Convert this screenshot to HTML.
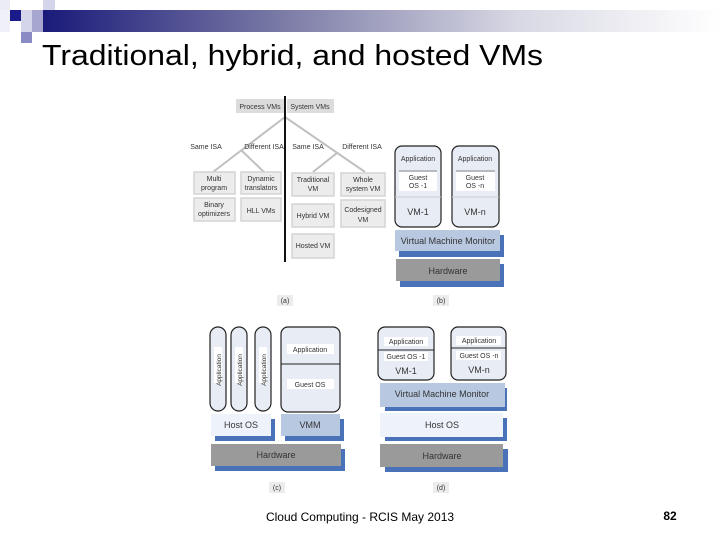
<!DOCTYPE html>
<html><head><meta charset="utf-8"><style>
body{margin:0;width:720px;height:540px;background:#fff;overflow:hidden;font-family:"Liberation Sans",sans-serif}
</style></head><body>
<svg width="720" height="540" viewBox="0 0 720 540" xmlns="http://www.w3.org/2000/svg" font-family="Liberation Sans, sans-serif">
<defs>
<linearGradient id="g" x1="0" x2="1" y1="0" y2="0">
<stop offset="0" stop-color="#1a1a7a"/><stop offset="0.35" stop-color="#7a7aa6"/><stop offset="0.7" stop-color="#d8d8e4"/><stop offset="1" stop-color="#ffffff"/>
</linearGradient>
</defs>
<rect x="43" y="10" width="677" height="22" fill="url(#g)"/>
<rect x="0" y="0" width="10" height="10" fill="#ececf6"/>
<rect x="10" y="10" width="11" height="11" fill="#1a1a8a"/>
<rect x="21" y="10" width="11" height="11" fill="#d4d4ea"/>
<rect x="32" y="10" width="11" height="11" fill="#a6a6d0"/>
<rect x="43" y="0" width="12" height="10" fill="#d4d4ea"/>
<rect x="21" y="21" width="11" height="11" fill="#d4d4ea"/>
<rect x="32" y="21" width="11" height="11" fill="#a6a6d0"/>
<rect x="21" y="32" width="11" height="11" fill="#8a8ac4"/>
<rect x="0" y="10" width="10" height="22" fill="#f0f0f8"/>
<text x="42" y="65" font-size="29" textLength="501" lengthAdjust="spacingAndGlyphs" fill="#000">Traditional, hybrid, and hosted VMs</text>

<g font-size="7" fill="#333" text-anchor="middle">
<!-- (a) -->
<rect x="236" y="99" width="48" height="14" fill="#dcdcdc"/>
<rect x="287" y="99" width="47" height="14" fill="#dcdcdc"/>
<text x="260" y="109">Process VMs</text><text x="310" y="109">System VMs</text>
<g stroke="#c0c0c0" stroke-width="2" fill="none">
<line x1="285" y1="117" x2="213" y2="172"/><line x1="241" y1="150" x2="264" y2="172"/>
<line x1="285" y1="117" x2="365" y2="172"/><line x1="337" y1="153" x2="313" y2="172"/>
</g>
<line x1="285" y1="96" x2="285" y2="262" stroke="#111" stroke-width="2"/>
<text x="206" y="149">Same ISA</text><text x="264" y="149">Different ISA</text>
<text x="308" y="149">Same ISA</text><text x="362" y="149">Different ISA</text>
<g fill="#ececec" stroke="#d4d4d4" stroke-width="1.5">
<rect x="194" y="172" width="41" height="22"/><rect x="241" y="172" width="40" height="22"/>
<rect x="194" y="198" width="41" height="23"/><rect x="241" y="198" width="40" height="23"/>
<rect x="292" y="173" width="42" height="23"/><rect x="341" y="173" width="44" height="23"/>
<rect x="292" y="204" width="42" height="23"/><rect x="341" y="200" width="44" height="27"/>
<rect x="292" y="234" width="42" height="24"/>
</g>
<text x="214" y="181">Multi</text><text x="214" y="190">program</text>
<text x="261" y="181">Dynamic</text><text x="261" y="190">translators</text>
<text x="214" y="207">Binary</text><text x="214" y="216">optimizers</text>
<text x="261" y="213">HLL VMs</text>
<text x="313" y="182">Traditional</text><text x="313" y="191">VM</text>
<text x="363" y="182">Whole</text><text x="363" y="191">system VM</text>
<text x="313" y="218">Hybrid VM</text>
<text x="363" y="212">Codesigned</text><text x="363" y="222">VM</text>
<text x="313" y="248">Hosted VM</text>
<rect x="277" y="295" width="16" height="11" fill="#ececec"/><text x="285" y="303">(a)</text>

<!-- (b) -->
<rect x="399" y="235" width="105" height="22" fill="#4a72b8"/>
<rect x="395" y="230" width="105" height="21" fill="#b8c8e0"/>
<rect x="400" y="264" width="104" height="23" fill="#4a72b8"/>
<rect x="396" y="259" width="104" height="22" fill="#9a9a9a"/>
<text x="448" y="244" font-size="9">Virtual Machine Monitor</text>
<text x="448" y="274" font-size="9">Hardware</text>
<g fill="#e8ecf4" stroke="#222" stroke-width="1.2">
<rect x="395" y="146" width="46" height="81" rx="7"/><rect x="452" y="146" width="47" height="81" rx="7"/>
</g>
<rect x="399" y="172" width="38" height="19" fill="#fff"/><rect x="456" y="172" width="39" height="19" fill="#fff"/>
<line x1="399" y1="171" x2="437" y2="171" stroke="#888"/><line x1="456" y1="171" x2="495" y2="171" stroke="#888"/>
<line x1="395" y1="197" x2="441" y2="197" stroke="#ccc"/><line x1="452" y1="197" x2="499" y2="197" stroke="#ccc"/>
<text x="418" y="161">Application</text><text x="475" y="161">Application</text>
<text x="418" y="180">Guest</text><text x="418" y="188">OS -1</text>
<text x="475" y="180">Guest</text><text x="475" y="188">OS -n</text>
<text x="418" y="215" font-size="9">VM-1</text><text x="475" y="215" font-size="9">VM-n</text>
<rect x="433" y="295" width="16" height="11" fill="#ececec"/><text x="441" y="303">(b)</text>

<!-- (c) -->
<rect x="215" y="419" width="60" height="22" fill="#4a72b8"/>
<rect x="211" y="414" width="60" height="22" fill="#eef2fa"/>
<rect x="285" y="419" width="59" height="22" fill="#4a72b8"/>
<rect x="281" y="414" width="59" height="22" fill="#b8c8e0"/>
<rect x="215" y="449" width="130" height="22" fill="#4a72b8"/>
<rect x="211" y="444" width="130" height="22" fill="#9a9a9a"/>
<text x="241" y="428" font-size="9">Host OS</text><text x="310" y="428" font-size="9">VMM</text>
<text x="276" y="458" font-size="9">Hardware</text>
<g fill="#e8ecf4" stroke="#222" stroke-width="1.2">
<rect x="210" y="327" width="16" height="84" rx="8"/><rect x="231" y="327" width="16" height="84" rx="8"/><rect x="255" y="327" width="16" height="84" rx="8"/>
<rect x="281" y="327" width="59" height="85" rx="7"/>
</g>
<g fill="#fff"><rect x="214" y="347" width="8" height="36"/><rect x="235" y="347" width="8" height="36"/><rect x="259" y="347" width="8" height="36"/>
<rect x="287" y="344" width="47" height="10"/><rect x="287" y="379" width="47" height="10"/></g>
<line x1="281" y1="364" x2="340" y2="364" stroke="#222"/>
<text transform="translate(221,370) rotate(-90)" font-size="6.5">Application</text>
<text transform="translate(242,370) rotate(-90)" font-size="6.5">Application</text>
<text transform="translate(266,370) rotate(-90)" font-size="6.5">Application</text>
<text x="310" y="352">Application</text><text x="310" y="387">Guest OS</text>
<rect x="269" y="482" width="16" height="11" fill="#ececec"/><text x="277" y="490">(c)</text>

<!-- (d) -->
<rect x="385" y="388" width="122" height="23" fill="#4a72b8"/>
<rect x="380" y="383" width="125" height="24" fill="#b8c8e0"/>
<rect x="385" y="418" width="122" height="23" fill="#4a72b8"/>
<rect x="380" y="413" width="123" height="24" fill="#eef2fa"/>
<rect x="385" y="449" width="123" height="23" fill="#4a72b8"/>
<rect x="380" y="444" width="123" height="23" fill="#9a9a9a"/>
<text x="442" y="397" font-size="9">Virtual Machine Monitor</text>
<text x="442" y="428" font-size="9">Host OS</text>
<text x="442" y="459" font-size="9">Hardware</text>
<g fill="#e8ecf4" stroke="#222" stroke-width="1.2">
<rect x="378" y="327" width="56" height="53" rx="7"/><rect x="451" y="327" width="55" height="53" rx="7"/>
</g>
<rect x="384" y="337" width="44" height="9" fill="#fff"/><rect x="456" y="336" width="45" height="9" fill="#fff"/>
<rect x="384" y="352" width="44" height="9" fill="#fff"/><rect x="456" y="351" width="45" height="9" fill="#fff"/>
<line x1="378" y1="350" x2="434" y2="350" stroke="#222"/><line x1="451" y1="348" x2="506" y2="348" stroke="#222"/>
<text x="406" y="344">Application</text><text x="479" y="343">Application</text>
<text x="406" y="359">Guest OS -1</text><text x="479" y="358">Guest OS -n</text>
<text x="406" y="374" font-size="9">VM-1</text><text x="479" y="373" font-size="9">VM-n</text>
<rect x="433" y="482" width="16" height="11" fill="#ececec"/><text x="441" y="490">(d)</text>
</g>

<text x="360" y="521" font-size="12" text-anchor="middle" fill="#000">Cloud Computing - RCIS  May 2013</text>
<text x="670" y="520" font-size="12" font-weight="bold" text-anchor="middle" fill="#000">82</text>
</svg>
</body></html>
